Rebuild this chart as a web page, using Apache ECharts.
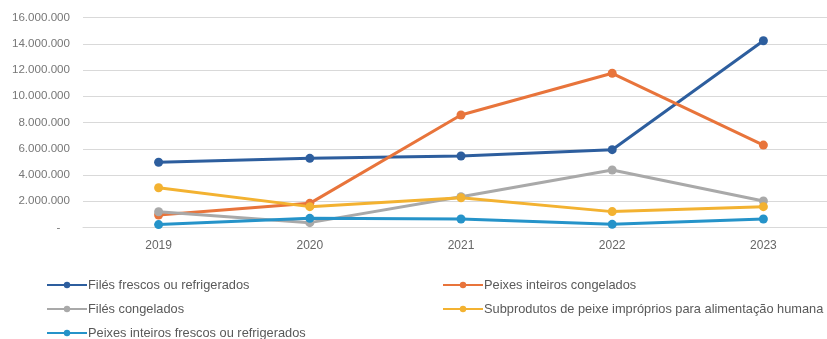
<!DOCTYPE html>
<html><head><meta charset="utf-8">
<script src="https://cdn.jsdelivr.net/npm/echarts@6/dist/echarts.min.js"></script>
<style>html,body{margin:0;padding:0;background:#fff;overflow:hidden}#c{width:840px;height:339px}</style>
</head><body><div id="c"></div>
<script>
var years = ['2019','2020','2021','2022','2023'];
var seriesNames = ['Filés frescos ou refrigerados','Peixes inteiros congelados','Filés congelados','Subprodutos de peixe impróprios para alimentação humana','Peixes inteiros frescos ou refrigerados'];
var filesFrescos = [4970000, 5270000, 5450000, 5930000, 14230000];
var peixesCongelados = [950000, 1840000, 8570000, 11750000, 6280000];
var filesCongelados = [1200000, 370000, 2350000, 4380000, 2020000];
var subprodutos = [3030000, 1590000, 2270000, 1210000, 1590000];
var peixesFrescos = [220000, 700000, 650000, 240000, 650000];
var yTicks = [0, 2000000, 4000000, 6000000, 8000000, 10000000, 12000000, 14000000, 16000000];

var colors = ['#2d5e9e', '#e8743b', '#a9a9a9', '#f3b231', '#2593c9'];
var values = [filesFrescos, peixesCongelados, filesCongelados, subprodutos, peixesFrescos];
var FONT = '"Liberation Sans", Arial, sans-serif';

function fmt(v){
  if (v === 0) return '-   ';
  return String(v).replace(/\B(?=(\d{3})+(?!\d))/g, '.');
}

var legendPos = [[46, 278.5], [442, 278.5], [46, 302.5], [442, 302.5], [46, 326.5]];
var legends = seriesNames.map(function(n, i){
  return {
    data: [n], left: legendPos[i][0], top: legendPos[i][1],
    itemWidth: 40, itemHeight: 8, itemGap: 0, padding: 0,
    textStyle: {fontFamily: FONT, fontSize: 12.8, color: '#595959', padding: [0,0,0,-4]},
    selectedMode: false
  };
});

var chart = echarts.init(document.getElementById('c'), null, {renderer: 'canvas'});
chart.setOption({
  animation: false,
  color: colors,
  grid: {left: 83, right: 1, top: 17.5, bottom: 111.5, containLabel: false},
  legend: legends,
  xAxis: {
    type: 'category', data: years, boundaryGap: true,
    axisLine: {show: true, lineStyle: {color: '#d9d9d9', width: 1}},
    axisTick: {show: false},
    axisLabel: {fontFamily: FONT, fontSize: 12, color: '#666', margin: 12}
  },
  yAxis: {
    type: 'value', min: 0, max: 16000000, interval: 2000000,
    axisLine: {show: false}, axisTick: {show: false},
    splitLine: {lineStyle: {color: '#d9d9d9', width: 1}},
    axisLabel: {fontFamily: FONT, fontSize: 11.6, color: '#777', margin: 13, formatter: fmt}
  },
  series: seriesNames.map(function(n, i){
    return {
      name: n, type: 'line', data: values[i],
      symbol: 'circle', symbolSize: 9,
      lineStyle: {width: 3, color: colors[i]},
      itemStyle: {color: colors[i]}
    };
  })
});
</script></body></html>
